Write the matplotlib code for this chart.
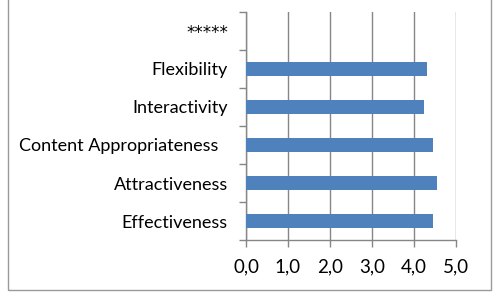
import numpy as np
import matplotlib.pyplot as plt
from matplotlib.patches import Rectangle

categories = ["Effectiveness", "Attractiveness", "Content Appropriateness  ",
              "Interactivity", "Flexibility", "*****"]
scores = [4.46, 4.54, 4.46, 4.24, 4.31, 0.0]
xticks = [0, 1, 2, 3, 4, 5]
xtick_labels = ["0,0", "1,0", "2,0", "3,0", "4,0", "5,0"]

plt.rcParams['font.family'] = ['Lato', 'DejaVu Sans']

fig = plt.figure(figsize=(4.95, 2.96), dpi=100)
ax = fig.add_axes([246 / 495, 1 - 240 / 296, 210 / 495, 228 / 296])

pos = np.arange(len(categories))
ax.barh(pos, scores, height=0.38, color="#4F81BD", linewidth=0, zorder=3)

ax.set_xlim(0, 5)
ax.set_ylim(-0.5, len(categories) - 0.5)
ax.set_xticks(xticks)
ax.set_xticklabels(xtick_labels, fontsize=13.5)
ax.set_yticks(pos)
ax.set_yticklabels(categories, fontsize=13)
ax.set_yticks(np.arange(len(categories) + 1) - 0.5, minor=True)

# the asterisk row looks bigger in the original
ax.get_yticklabels()[-1].set_fontfamily("DejaVu Sans")
ax.get_yticklabels()[-1].set_fontsize(12)

ax.tick_params(axis="y", which="major", length=0, pad=13)
ax.tick_params(axis="y", which="minor", length=5, color="#868686", width=1)
ax.tick_params(axis="x", length=5, color="#868686", width=1, pad=8)
ax.grid(axis="x", color="#868686", linewidth=1, zorder=0)

for s in ["top", "right"]:
    ax.spines[s].set_visible(False)
for s in ["left", "bottom"]:
    ax.spines[s].set_color("#868686")
    ax.spines[s].set_linewidth(1)

# outer chart frame
fig.patches.append(Rectangle((8 / 495, 6 / 296), 483 / 495, 1.0, transform=fig.transFigure,
                             fill=False, edgecolor="#9a9a9a", linewidth=1))

fig.savefig("out.png", dpi=100)
